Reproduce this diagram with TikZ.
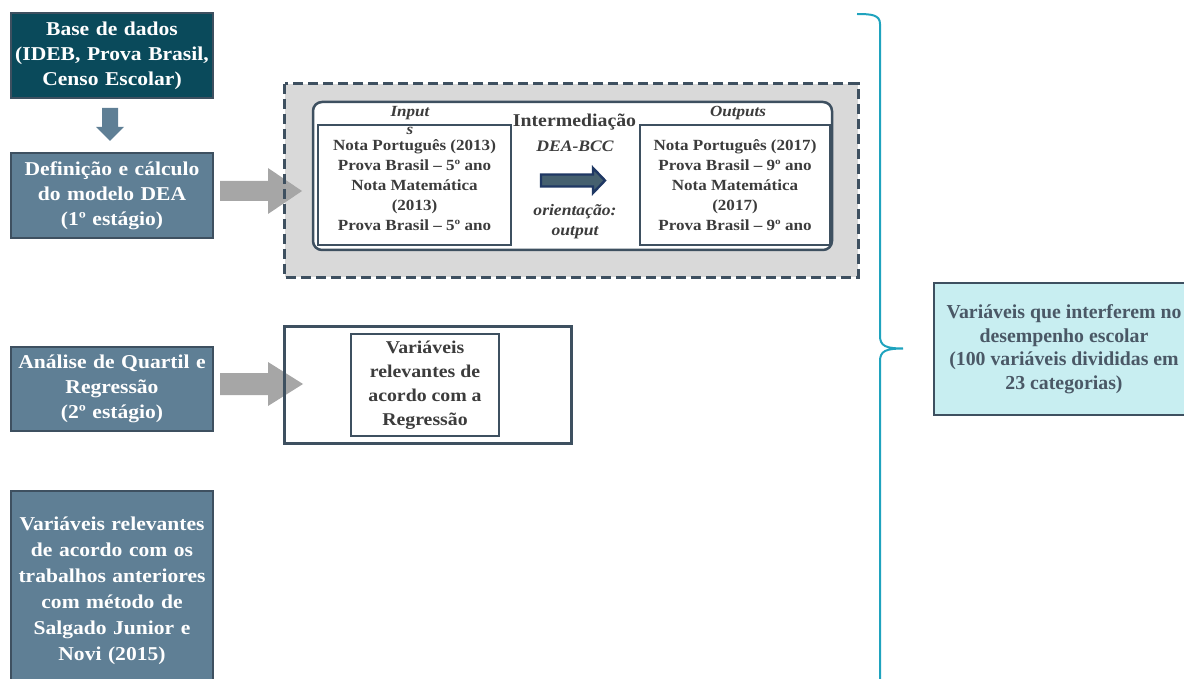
\documentclass[tikz,border=0pt]{standalone}
\usepackage{fontspec}
\setmainfont{Liberation Serif}
\newfontfamily\widefont{Liberation Serif}[FakeStretch=1.1]
\definecolor{darkteal}{HTML}{0A4A5B}
\definecolor{slate}{HTML}{5F7F95}
\definecolor{boxline}{HTML}{3E5060}
\definecolor{inktext}{HTML}{3C3C3C}
\definecolor{softink}{HTML}{4A5866}
\definecolor{lightcyan}{HTML}{C8EEF1}
\definecolor{bracecol}{HTML}{1FA3BE}
\definecolor{blockgray}{HTML}{A6A6A6}
\definecolor{panelgray}{HTML}{D9D9D9}
\definecolor{navy}{HTML}{1F3864}
\definecolor{navyfill}{HTML}{45606F}
\begin{document}
\begin{tikzpicture}[x=1pt,y=-1pt,
  stage/.style={draw=boxline, line width=1.6pt, fill=slate, text=white,
    font=\widefont\bfseries\fontsize{19.6}{25}\selectfont, align=center,
    inner sep=0pt, minimum width=202pt, text width=200pt},
  datanote/.style={inner sep=0pt, align=center, text=inktext,
    font=\widefont\bfseries\fontsize{15.5}{20}\selectfont},
  framebox/.style={draw=boxline, line width=2.5pt},
  headlabel/.style={inner sep=0pt, text=inktext,
    font=\widefont\bfseries\itshape\fontsize{15.5}{18}\selectfont},
  midlabel/.style={inner sep=0pt, text=inktext, align=center}]
\useasboundingbox (0,0) rectangle (1184,679);
\clip (0,0) rectangle (1184,679);

% ---------- left column: stages ----------
\node[stage, fill=darkteal, minimum height=85pt] (base) at (112,55.5)
  {Base de dados\\(IDEB, Prova Brasil,\\Censo Escolar)};
\node[stage, minimum height=85pt] (def) at (112,195.5)
  {Definição e cálculo\\do modelo DEA\\(1º estágio)};
\node[stage, minimum height=84pt] (quart) at (112,389)
  {Análise de Quartil e\\Regressão\\(2º estágio)};
\node[stage, minimum height=200pt, font=\widefont\bfseries\fontsize{19.6}{26}\selectfont]
  (prev) at (112,591)
  {Variáveis relevantes\\de acordo com os\\trabalhos anteriores\\com método de\\Salgado Junior e\\Novi (2015)};

% down arrow between the first two stages
\fill[slate] (102,108) -- (118,108) -- (118,127) -- (124,127) -- (110,141)
  -- (96,127) -- (102,127) -- cycle;

% ---------- DEA panel ----------
\node[fill=panelgray, minimum width=573pt, minimum height=193pt, inner sep=0pt]
  (panel) at (571.5,180.5) {};
% stage 1 -> panel
\fill[blockgray] (220,181) -- (268,181) -- (268,168) -- (302,191) -- (268,214)
  -- (268,201) -- (220,201) -- cycle;
\draw[draw=boxline, line width=3pt, dash pattern=on 10pt off 5pt]
  (panel.north west) rectangle (panel.south east);

\node[draw=boxline, line width=2.5pt, fill=white, rounded corners=9pt,
  minimum width=519pt, minimum height=148pt, inner sep=0pt] (model) at (572.5,176) {};

\node[framebox, minimum width=193pt, minimum height=120pt, inner sep=0pt]
  (inbox) at (414.5,185) {};
\node[datanote] at (inbox.center)
  {Nota Português (2013)\\Prova Brasil – 5º ano\\Nota Matemática\\(2013)\\Prova Brasil – 5º ano};
\node[headlabel] (inlab) at (410,113) {Input};
\node[headlabel] (inlabs) at (410,130.5) {s};

\node[framebox, minimum width=190pt, minimum height=120pt, inner sep=0pt]
  (outbox) at (735,185) {};
\node[datanote] at (outbox.center)
  {Nota Português (2017)\\Prova Brasil – 9º ano\\Nota Matemática\\(2017)\\Prova Brasil – 9º ano};
\node[headlabel] (outlab) at (738,113) {Outputs};

\node[midlabel, font=\widefont\bfseries\fontsize{18}{22}\selectfont] (inter) at (574.5,122) {Intermediação};
\node[midlabel, font=\widefont\bfseries\itshape\fontsize{16}{20}\selectfont] (bcc) at (575,146) {DEA-BCC};
\node[midlabel, font=\widefont\bfseries\itshape\fontsize{16}{20}\selectfont] (orient) at (575,222)
  {orientação:\\output};
\filldraw[fill=navyfill, draw=navy, line width=2.4pt, line join=miter]
  (541,174.5) -- (593,174.5) -- (593,168) -- (605,180.5) -- (593,193)
  -- (593,186.5) -- (541,186.5) -- cycle;

% ---------- regression panel ----------
\node[fill=white, minimum width=286pt, minimum height=116pt, inner sep=0pt]
  (regpanel) at (428,385) {};
% stage 2 -> regression panel
\fill[blockgray] (220,373) -- (268,373) -- (268,362) -- (303,384) -- (268,406)
  -- (268,395) -- (220,395) -- cycle;
\draw[draw=boxline, line width=3pt] (regpanel.north west) rectangle (regpanel.south east);
\node[framebox, minimum width=148pt, minimum height=102pt, inner sep=0pt,
  text=inktext, align=center, font=\widefont\bfseries\fontsize{18}{24}\selectfont]
  (regvars) at (425,385) {Variáveis\\relevantes de\\acordo com a\\Regressão};

% ---------- brace and summary ----------
\coordinate (bracetop) at (857,14);
\coordinate (bracetip) at (903,348.5);
\coordinate (bracebot) at (880,690);
\draw[bracecol, line width=2pt]
  (bracetop) .. controls (872,14) and (880,15) .. (880,24) -- (880,336)
  .. controls (880,346) and (886,348.5) .. (bracetip)
  .. controls (886,348.5) and (880,351) .. (880,361) -- (bracebot);

\node[draw=boxline, line width=2pt, fill=lightcyan, minimum width=260pt,
  minimum height=132pt, inner sep=0pt] (summary) at (1064,349) {};
\node[inner sep=0pt, align=center, text=softink,
  font=\bfseries\fontsize{19.8}{23.5}\selectfont] at (summary.center)
  {Variáveis que interferem no\\desempenho escolar\\(100 variáveis divididas em\\23 categorias)};
\end{tikzpicture}
\end{document}
